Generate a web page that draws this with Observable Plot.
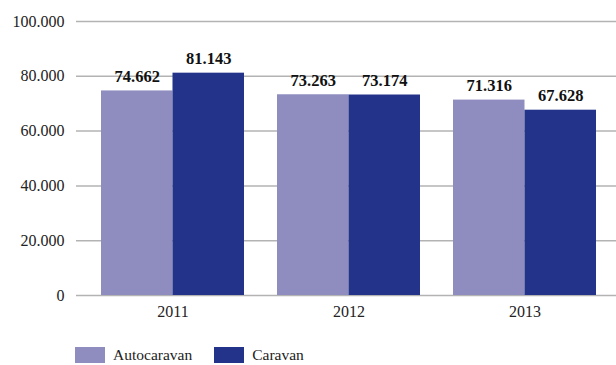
<!DOCTYPE html>
<html>
<head>
<meta charset="utf-8">
<script src="https://cdn.jsdelivr.net/npm/d3@7"></script>
<script src="https://cdn.jsdelivr.net/npm/@observablehq/plot@0.6"></script>
<style>
  html, body { margin: 0; padding: 0; background: #fff; }
  body { width: 616px; height: 365px; overflow: hidden; font-family: "Liberation Serif", "DejaVu Serif", serif; }
  #legend { display: flex; align-items: center; height: 37px; padding-left: 75px; padding-top: 8px; font-size: 15.5px; color: #222; }
  .item { display: flex; align-items: center; margin-right: 22px; }
  .sw { width: 30px; height: 16px; margin-right: 8px; }
</style>
</head>
<body>
<div id="chart"></div>
<div id="legend"></div>
<script>
const years = ["2011", "2012", "2013"];
const series = ["Autocaravan", "Caravan"];
const autocaravan = [74662, 73263, 71316];
const caravan = [81143, 73174, 67628];
const yTicks = [0, 20000, 40000, 60000, 80000, 100000];
const colors = ["#8f8dbf", "#233389"];

const locale = d3.formatLocale({decimal: ",", thousands: ".", grouping: [3], currency: ["", "€"]});
const fmt = locale.format(",.0f");
const fmtLabel = v => locale.format(",.0f")(v);

const data = [];
years.forEach((y, i) => {
  data.push({year: y, series: series[0], value: autocaravan[i]});
  data.push({year: y, series: series[1], value: caravan[i]});
});

const half = 143 / 2;
const auto = data.filter(d => d.series === series[0]);
const car = data.filter(d => d.series === series[1]);

const chart = Plot.plot({
  width: 616,
  height: 328,
  marginLeft: 76,
  marginRight: 0,
  marginTop: 21,
  marginBottom: 33,
  style: {fontFamily: "Liberation Serif, DejaVu Serif, serif", fontSize: "16px", color: "#222", background: "#fff"},
  x: {domain: years, range: [84, 612], paddingInner: 0.1875, paddingOuter: 0.09375, label: null, tickSize: 0, tickPadding: 10},
  y: {domain: [0, 100000], ticks: yTicks, tickFormat: fmt, label: null, tickSize: 0, tickPadding: 12},
  color: {domain: series, range: colors},
  marks: [
    Plot.ruleY(yTicks, {stroke: "#b3b3b3", strokeWidth: 1.5}),
    Plot.barY(auto, {x: "year", y: "value", fill: "series", insetRight: half}),
    Plot.barY(car, {x: "year", y: "value", fill: "series", insetLeft: half}),
    Plot.text(auto, {x: "year", y: "value", text: d => fmtLabel(d.value), dx: -half / 2, dy: -9, lineAnchor: "bottom", fontWeight: "bold", fontSize: 16.5, fill: "#111"}),
    Plot.text(car, {x: "year", y: "value", text: d => fmtLabel(d.value), dx: half / 2, dy: -9, lineAnchor: "bottom", fontWeight: "bold", fontSize: 16.5, fill: "#111"})
  ]
});
document.getElementById("chart").appendChild(chart);

const legend = document.getElementById("legend");
series.forEach((s, i) => {
  const it = document.createElement("div");
  it.className = "item";
  const sw = document.createElement("div");
  sw.className = "sw";
  sw.style.background = colors[i];
  const t = document.createElement("span");
  t.textContent = s;
  it.appendChild(sw);
  it.appendChild(t);
  legend.appendChild(it);
});
</script>
</body>
</html>
